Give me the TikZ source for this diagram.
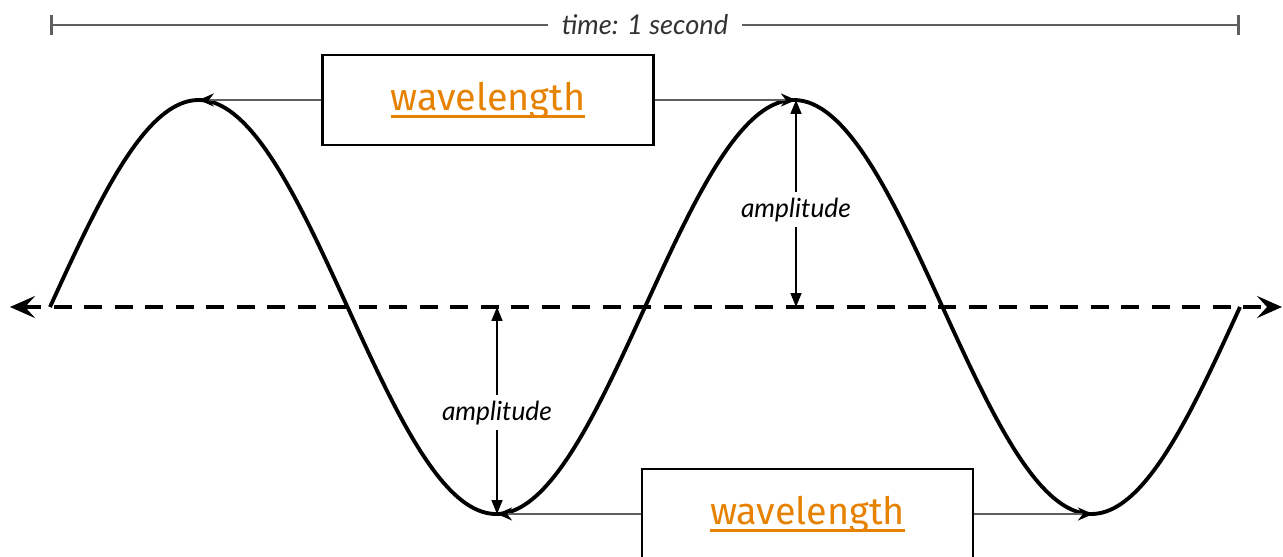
\documentclass[tikz,border=0pt]{standalone}
\usepackage{fontspec}
\setmainfont{Lato}
\newfontfamily\handfont{Fira Sans}
\usepackage{xcolor}
\newcommand{\thickul}[1]{\setbox0\hbox{#1}\rlap{\vrule width \wd0 height -3pt depth 4.6pt}\box0}
\usetikzlibrary{arrows.meta, positioning, calc}
\definecolor{cOrange}{RGB}{230,130,0}
\definecolor{cGrey}{RGB}{95,95,95}
\tikzset{
	wave/.style    ={line width=2.2pt, black},
	axisline/.style={line width=2.2pt, dash pattern=on 0.36cm off 0.25cm, {Stealth[length=5mm,width=4.4mm,inset=2mm]}-{Stealth[length=5mm,width=4.4mm,inset=2mm]}},
	wlbox/.style   ={rectangle, draw=black, line width=1.3pt, fill=white, minimum width=6.62cm, minimum height=1.8cm, font=\handfont\fontsize{21.5}{24}\selectfont, text=cOrange},
	wlline/.style  ={line width=1.5pt, cGrey, -{Stealth[length=3mm,width=2.6mm,black]}},
	ampline/.style ={line width=0.9pt, black, {Triangle[length=2.8mm,width=2.2mm]}-{Triangle[length=2.8mm,width=2.2mm]}},
	amplabel/.style={fill=white, inner sep=3pt, font=\itshape\fontsize{15}{17}\selectfont},
	timebar/.style ={line width=1.2pt, cGrey, {Bar[width=4mm,line width=1.6pt]}-{Bar[width=4mm,line width=1.6pt]}},
}
\begin{document}
\begin{tikzpicture}[x=0.02cm, y=-0.02cm]
	\useasboundingbox (0,0) rectangle (1283,557);
	% reference points
	\coordinate (tStart) at (50,25);
	\coordinate (tEnd) at (1240,25);
	\coordinate (axL) at (10,307);
	\coordinate (axR) at (1282,307);
	\coordinate (peakA) at (198.75,100);
	\coordinate (peakB) at (796,100);
	\coordinate (troughA) at (497,514);
	\coordinate (troughB) at (1093,514);
	\coordinate (zeroB) at (796,307);
	\coordinate (zeroA) at (497,307);
	% time bar
	\draw[timebar] (tStart) -- node[fill=white, inner xsep=8pt, text=black!80, font=\itshape\fontsize{15.5}{17}\selectfont] (timelabel) {time: 1 second} (tEnd);
	% axis and wave
	\draw[axisline] (axL) -- (axR);
	\draw[wave] plot[domain=50:1240, samples=240, smooth] (\x, {307 - 207*sin(0.605042*(\x-50))});
	% wavelength boxes
	\node[wlbox] (wlTop) at (488,100) {\thickul{wavelength}};
	\node[wlbox] (wlBot) at (807.5,514) {\thickul{wavelength}};
	\draw[wlline] (wlTop.west) -- (peakA);
	\draw[wlline] (wlTop.east) -- (peakB);
	\draw[wlline] (wlBot.west) -- (troughA);
	\draw[wlline] (wlBot.east) -- (troughB);
	% amplitudes
	\draw[ampline] (peakB) -- node[amplabel, pos=0.53] (ampTop) {amplitude} (zeroB);
	\draw[ampline] (zeroA) -- node[amplabel, pos=0.51] (ampBot) {amplitude} (troughA);
\end{tikzpicture}
\end{document}
